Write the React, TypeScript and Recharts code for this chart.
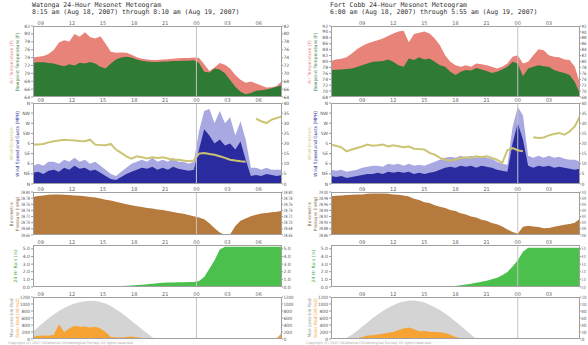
import React from 'react';
import { ComposedChart, Area, Line, XAxis, YAxis, ReferenceLine } from 'recharts';

// half-hour samples, 49 per station
const STEP = 0.5;

// Watonga, 8:15 am Aug 18 -> 8:10 am Aug 19
const WAT_START = 8.25;
const watAir = [74.0, 74.2, 74.4, 74.9, 75.9, 77.8, 78.4, 78.1, 80.0, 79.3, 80.4, 79.2, 78.8, 79.4, 77.5, 75.5, 75.2, 75.3, 75.2, 74.7, 74.1, 73.7, 73.5, 73.4, 73.4, 73.5, 73.6, 73.7, 73.8, 73.9, 73.9, 74.0, 73.9, 72.3, 70.6, 71.5, 72.6, 72.2, 71.2, 69.6, 68.4, 67.6, 67.9, 67.4, 66.9, 66.4, 66.5, 66.8, 68.1];
const watDew = [72.7, 72.8, 72.8, 72.6, 72.5, 72.1, 71.8, 72.3, 72.0, 72.7, 72.5, 72.9, 72.5, 71.7, 71.2, 72.5, 73.5, 74.0, 74.2, 74.0, 73.5, 73.2, 73.0, 72.9, 72.9, 73.0, 73.0, 73.1, 73.1, 73.2, 73.2, 73.3, 72.6, 70.4, 70.2, 71.2, 71.0, 70.0, 68.3, 66.6, 65.3, 64.7, 65.0, 65.6, 65.7, 65.9, 66.2, 66.6, 67.0];
const watDir = [175, 176, 178, 185, 190, 193, 197, 195, 193, 191, 190, 197, 175, 173, 172, 178, 153, 138, 123, 113, 123, 119, 113, 119, 116, 119, 113, 108, 108, 104, 101, 104, 135, 138, 133, 130, 123, 116, 108, 104, 101, 99, null, 290, 279, 271, 286, 293, 301];
const watSpeed = [5.5, 6, 5, 6.5, 7, 6, 8, 7, 9, 7.5, 8, 6.5, 7, 5.5, 4, 2.5, 2, 3.5, 5, 6, 7, 8, 7.5, 8.5, 7, 8, 7, 8.5, 7.5, 7, 6.5, 7, 17, 27, 24, 20, 22, 19, 20, 17, 21, 12, 4, 4.5, 4, 5, 4.5, 4, 4.5];
const watGust = [9, 10, 9, 11, 11, 10, 12, 11, 13, 11, 12, 10, 11, 9, 7, 5, 4, 6, 8, 10, 11, 12, 11, 13, 11, 12, 11, 13, 11, 11, 10, 11, 26, 36, 37, 30, 36, 30, 33, 24, 31, 22, 8, 8, 7, 8, 7, 7, 7];
const watPres = [28.784, 28.787, 28.789, 28.791, 28.792, 28.792, 28.791, 28.790, 28.789, 28.788, 28.786, 28.784, 28.782, 28.779, 28.775, 28.772, 28.768, 28.764, 28.760, 28.757, 28.754, 28.751, 28.748, 28.746, 28.743, 28.741, 28.738, 28.735, 28.732, 28.729, 28.725, 28.721, 28.717, 28.711, 28.698, 28.682, 28.668, 28.660, 28.662, 28.689, 28.706, 28.714, 28.721, 28.726, 28.730, 28.732, 28.734, 28.736, 28.739];
const watRain = [0, 0, 0, 0, 0, 0, 0, 0, 0, 0, 0, 0, 0, 0, 0.02, 0.05, 0.1, 0.13, 0.16, 0.2, 0.25, 0.3, 0.36, 0.43, 0.5, 0.55, 0.58, 0.6, 0.62, 0.63, 0.64, 0.66, 0.8, 1.3, 2.4, 3.5, 4.9, 5.28, 5.28, 5.28, 5.28, 5.28, 5.28, 5.28, 5.28, 5.28, 5.28, 5.28, 5.28];
const watMaxRad = [208, 340, 472, 590, 699, 798, 888, 955, 1011, 1050, 1077, 1092, 1087, 1058, 1011, 940, 850, 748, 633, 515, 397, 278, 161, 40, 0, 0, 0, 0, 0, 0, 0, 0, 0, 0, 0, 0, 0, 0, 0, 0, 0, 0, 0, 0, 0, 0, 0, 30, 200];
const watSolar = [66, 90, 100, 90, 120, 420, 200, 300, 380, 350, 360, 330, 350, 300, 200, 60, 50, 45, 55, 70, 50, 30, 15, 0, 0, 0, 0, 0, 0, 0, 0, 0, 0, 0, 0, 0, 0, 0, 0, 0, 0, 0, 0, 0, 0, 0, 0, 25, 160];

// Fort Cobb, 6:00 am Aug 18 -> 5:55 am Aug 19
const COB_START = 6;
const cobAir = [80.2, 80.7, 80.9, 81.4, 82.7, 84.1, 85.2, 86.1, 86.7, 87.2, 87.8, 88.6, 89.5, 90.1, 90.4, 86.5, 89.3, 89.7, 90.1, 89.5, 87.8, 85.5, 82.1, 79.9, 78.7, 78.2, 78.7, 78.2, 79.3, 79.1, 78.7, 78.2, 77.6, 78.2, 79.3, 81.6, 82.1, 79.3, 79.9, 82.1, 84.1, 83.8, 82.1, 81.6, 81.4, 80.7, 80.5, 78.2, 72.5];
const cobDew = [77.1, 77.2, 77.3, 77.5, 77.6, 78.1, 78.7, 79.3, 79.9, 80.0, 80.2, 80.7, 79.9, 78.7, 78.2, 81.0, 80.5, 81.4, 80.7, 81.0, 79.9, 78.7, 78.2, 76.5, 75.4, 76.5, 77.1, 77.0, 77.8, 77.3, 76.8, 76.1, 76.5, 77.3, 78.2, 79.9, 79.3, 75.0, 77.6, 78.2, 78.7, 78.4, 78.2, 77.1, 76.5, 76.1, 75.4, 73.1, 69.0];
const cobDir = [175, 170, 163, 145, 153, 160, 167, 175, 170, 172, 175, 167, 172, 168, 163, 167, 157, 155, 153, 138, 130, 116, 108, 104, 108, 116, 119, 116, 123, 119, 123, 116, 108, 93, 150, 160, 150, 145, null, 208, 204, 207, 216, 222, 227, 219, 234, 256, 301];
const cobSpeed = [4, 3.5, 4, 3, 3.5, 4, 4.5, 5, 5, 5.5, 5, 6, 5.5, 6, 5.5, 6, 5, 5.5, 5, 5.5, 6, 7, 8, 8.5, 8, 9, 8.5, 9, 8, 9, 8.5, 8, 7, 6.5, 6, 20, 30, 22, 9, 8, 9, 8.5, 9, 8, 8.5, 8, 7.5, 7, 7.5];
const cobGust = [7, 6.5, 7, 6, 6.5, 7, 8, 8.5, 9, 9, 8.5, 10, 9.5, 10, 9, 10, 9, 9.5, 9, 10, 11, 12, 13, 13.5, 13, 14, 13, 14, 13, 14, 13, 12.5, 11, 10, 9.5, 28, 38, 34, 14, 13, 14, 13, 14, 13, 13.5, 12.5, 12, 12, 11];
const cobPres = [28.986, 28.988, 28.989, 28.990, 28.991, 28.992, 28.992, 28.994, 28.995, 28.995, 28.995, 28.994, 28.992, 28.991, 28.989, 28.985, 28.978, 28.974, 28.967, 28.964, 28.957, 28.952, 28.948, 28.941, 28.938, 28.931, 28.927, 28.920, 28.917, 28.910, 28.906, 28.899, 28.895, 28.888, 28.878, 28.870, 28.864, 28.887, 28.890, 28.888, 28.886, 28.882, 28.883, 28.887, 28.890, 28.893, 28.896, 28.900, 28.914];
const cobRain = [0, 0, 0, 0, 0, 0, 0, 0, 0, 0, 0, 0, 0, 0, 0, 0, 0, 0, 0, 0, 0, 0, 0, 0.05, 0.12, 0.22, 0.32, 0.42, 0.55, 0.68, 0.82, 1.0, 1.22, 1.55, 1.98, 2.7, 3.5, 4.6, 5.15, 5.15, 5.15, 5.15, 5.15, 5.15, 5.15, 5.15, 5.15, 5.15, 5.15];
const cobMaxRad = [0, 0, 0, 30, 120, 230, 350, 470, 590, 700, 800, 890, 965, 1030, 1075, 1100, 1100, 1080, 1040, 980, 910, 830, 730, 620, 500, 380, 250, 120, 10, 0, 0, 0, 0, 0, 0, 0, 0, 0, 0, 0, 0, 0, 0, 0, 0, 0, 0, 0, 0];
const cobSolar = [0, 0, 0, 0, 0, 20, 60, 100, 110, 130, 150, 180, 200, 260, 300, 330, 280, 220, 230, 210, 200, 190, 170, 120, 60, 20, 0, 0, 0, 0, 0, 0, 0, 0, 0, 0, 0, 0, 0, 0, 0, 0, 0, 0, 0, 0, 0, 0, 0];

// axis ticks
const watTempTicks = [64, 66, 68, 70, 72, 74, 76, 78, 80, 82];
const cobTempTicks = [68, 70, 72, 74, 76, 78, 80, 82, 84, 86, 88, 90, 92];
const dirTicks = [0, 45, 90, 135, 180, 225, 270, 315, 360];
const dirLabels = ['N', 'NE', 'E', 'SE', 'S', 'SW', 'W', 'NW', 'N'];
const speedTicks = [0, 5, 10, 15, 20, 25, 30, 35, 40];
const watPresTicks = [28.66, 28.68, 28.7, 28.72, 28.74, 28.76, 28.78, 28.8];
const cobPresTicks = [28.86, 28.88, 28.9, 28.92, 28.94, 28.96, 28.98, 29.0];
const rainTicks = [0, 1, 2, 3, 4, 5];
const solarTicks = [0, 200, 400, 600, 800, 1000, 1200];

const RED = '#e8837a';
const DEW = '#2f7a35';
const GUST = '#a8a8e2';
const SPEED = '#2b2ba0';
const DIR = '#cbc473';
const PRES = '#b57a3c';
const RAIN = '#4cc04c';
const MAXRAD = '#d4d4d4';
const SOLAR = '#f7a334';

const FONT = '"DejaVu Sans", sans-serif';
const PW = 249;
const AX_L = 20;
const AX_R = 14;
const AX_T = 8;
const AX_B = 4;
const TICK_FS = 4.5;

const buildRows = (start: number, cols: Record<string, (number | null)[]>) =>
  cols.air.map((_, i) => {
    const row: Record<string, number | null> = { t: start + i * STEP };
    Object.keys(cols).forEach((k) => {
      row[k] = cols[k][i];
    });
    return row;
  });

const watRows = buildRows(WAT_START, {
  air: watAir, dew: watDew, dir: watDir, speed: watSpeed, gust: watGust,
  pres: watPres, rain: watRain, maxrad: watMaxRad, solar: watSolar,
});
const cobRows = buildRows(COB_START, {
  air: cobAir, dew: cobDew, dir: cobDir, speed: cobSpeed, gust: cobGust,
  pres: cobPres, rain: cobRain, maxrad: cobMaxRad, solar: cobSolar,
});

const fmtHour = (v: number) => String(Math.round(v) % 24).padStart(2, '0');

type AxisCfg = { domain: [number, number]; ticks: number[]; fmt?: (v: number) => string };

// y tick text, squeezed sideways when it would not fit the space the reference gives it
const makeTick = (fmt: ((v: number) => string) | undefined, anchor: 'start' | 'end', maxW: number) =>
  (p: any) => {
    const label = fmt ? fmt(p.payload.value) : String(p.payload.value);
    const natural = label.length * TICK_FS * 0.64;
    const sx = natural > maxW ? maxW / natural : 1;
    return (
      <text
        transform={`translate(${p.x},${p.y}) scale(${sx},1)`} x={0} y={0} dy="0.35em"
        textAnchor={anchor} fontSize={TICK_FS} fill="#555" fontFamily={FONT}
      >
        {label}
      </text>
    );
  };

function Panel(props: {
  x: number; y: number; h: number; start: number; data: any[];
  left: AxisCfg; right: AxisCfg; rightMaxW: number; children: React.ReactNode;
}) {
  const { x, y, h, start, data, left, right, rightMaxW, children } = props;
  const hours: number[] = [];
  for (let k = Math.ceil(start / 3) * 3; k < start + 24; k += 3) if (k > start) hours.push(k);
  const w = PW + AX_L + AX_R;
  return (
    <div style={{ position: 'absolute', left: x - AX_L, top: y - AX_T, width: w, height: h + AX_T + AX_B }}>
      <ComposedChart width={w} height={h + AX_T + AX_B} data={data} margin={{ top: 0, right: 0, bottom: AX_B, left: 0 }}>
        <XAxis
          type="number" dataKey="t" domain={[start, start + 24]} ticks={hours} interval={0}
          tickFormatter={fmtHour} orientation="top" height={AX_T} axisLine={false} tickLine={false}
          tickSize={0} tickMargin={1} tick={{ fontSize: 5, fill: '#666', fontFamily: FONT }} allowDataOverflow
        />
        <YAxis
          yAxisId="l" width={AX_L} domain={left.domain} ticks={left.ticks} interval={0}
          tick={makeTick(left.fmt, 'end', 10)} tickSize={2} tickMargin={1}
          axisLine={false} tickLine={{ stroke: '#999' }} allowDataOverflow type="number"
        />
        <YAxis
          yAxisId="r" orientation="right" width={AX_R} domain={right.domain} ticks={right.ticks} interval={0}
          tick={makeTick(right.fmt, 'start', rightMaxW)} tickSize={1} tickMargin={0.5}
          axisLine={false} tickLine={{ stroke: '#999' }} allowDataOverflow type="number"
        />
        {children}
        <ReferenceLine yAxisId="l" x={24} stroke="#c4c4c4" strokeWidth={1} />
      </ComposedChart>
      <div
        style={{
          position: 'absolute', left: AX_L, top: AX_T, width: PW, height: h,
          border: '1px solid #a0a0a0', boxSizing: 'border-box', pointerEvents: 'none',
        }}
      />
    </div>
  );
}

function VTitle({ x, y, h, lines }: { x: number; y: number; h: number; lines: [string, string][] }) {
  return (
    <div
      style={{
        position: 'absolute', left: x, top: y + h / 2,
        transform: 'translate(-50%, -50%) rotate(-90deg)', whiteSpace: 'nowrap',
        textAlign: 'center', fontSize: 4.5, lineHeight: '5.5px', fontFamily: FONT,
      }}
    >
      {lines.map(([t, c]) => (
        <div key={t} style={{ color: c }}>{t}</div>
      ))}
    </div>
  );
}

const P_TEMP = { y: 26, h: 71 };
const P_WIND = { y: 103, h: 81 };
const P_PRES = { y: 192, h: 43 };
const P_RAIN = { y: 245, h: 42 };
const P_SOLAR = { y: 297, h: 42 };

function Meteogram(props: {
  x: number; start: number; rows: any[]; name: string; span: string;
  tempTicks: number[]; presTicks: number[]; rightMaxW: number;
}) {
  const { x, start, rows, name, span, tempTicks, presTicks, rightMaxW } = props;
  const temp: AxisCfg = { domain: [tempTicks[0], tempTicks[tempTicks.length - 1]], ticks: tempTicks };
  const pres: AxisCfg = {
    domain: [presTicks[0], presTicks[presTicks.length - 1]], ticks: presTicks, fmt: (v) => v.toFixed(2),
  };
  const rain: AxisCfg = { domain: [0, 5.5], ticks: rainTicks, fmt: (v) => v.toFixed(1) };
  const solar: AxisCfg = { domain: [0, 1200], ticks: solarTicks };
  const dir: AxisCfg = { domain: [0, 360], ticks: dirTicks, fmt: (v) => dirLabels[dirTicks.indexOf(v)] };
  const spd: AxisCfg = { domain: [0, 40], ticks: speedTicks };
  const tx = x - 19;
  return (
    <>
      <div style={{ position: 'absolute', left: x - 1, top: 2, fontFamily: '"DejaVu Sans Mono", monospace', fontSize: 6.5, lineHeight: '7px', color: '#333', whiteSpace: 'pre' }}>
        <div>{name}</div>
        <div>{span}</div>
      </div>

      <Panel x={x} {...P_TEMP} start={start} data={rows} left={temp} right={temp} rightMaxW={rightMaxW}>
        <Area yAxisId="l" dataKey="air" type="linear" stroke="none" fill={RED} fillOpacity={1} baseValue="dataMin" isAnimationActive={false} />
        <Area yAxisId="l" dataKey="dew" type="linear" stroke="none" fill={DEW} fillOpacity={1} baseValue="dataMin" isAnimationActive={false} />
      </Panel>
      <VTitle x={tx} {...P_TEMP} lines={[['Air Temperature (F)', RED], ['Dewpoint Temperature (F)', DEW]]} />

      <Panel x={x} {...P_WIND} start={start} data={rows} left={dir} right={spd} rightMaxW={rightMaxW}>
        <Area yAxisId="r" dataKey="gust" type="linear" stroke="none" fill={GUST} fillOpacity={1} isAnimationActive={false} />
        <Area yAxisId="r" dataKey="speed" type="linear" stroke="none" fill={SPEED} fillOpacity={1} isAnimationActive={false} />
        <Line yAxisId="l" dataKey="dir" type="linear" stroke={DIR} strokeWidth={2} dot={false} connectNulls={false} isAnimationActive={false} />
      </Panel>
      <VTitle x={tx} {...P_WIND} lines={[['Wind Direction', DIR], ['Wind Speed and Gusts (MPH)', SPEED]]} />

      <Panel x={x} {...P_PRES} start={start} data={rows} left={pres} right={pres} rightMaxW={rightMaxW}>
        <Area yAxisId="l" dataKey="pres" type="linear" stroke="none" fill={PRES} fillOpacity={1} baseValue="dataMin" isAnimationActive={false} />
      </Panel>
      <VTitle x={tx} {...P_PRES} lines={[['Barometric', '#8a6a4a'], ['Pressure (inHg)', '#8a6a4a']]} />

      <Panel x={x} {...P_RAIN} start={start} data={rows} left={rain} right={rain} rightMaxW={rightMaxW}>
        <Area yAxisId="l" dataKey="rain" type="linear" stroke="none" fill={RAIN} fillOpacity={1} isAnimationActive={false} />
      </Panel>
      <VTitle x={tx + 2} {...P_RAIN} lines={[['24 Hr Rain (in)', '#3aa83a']]} />

      <Panel x={x} {...P_SOLAR} start={start} data={rows} left={solar} right={solar} rightMaxW={rightMaxW}>
        <Area yAxisId="l" dataKey="maxrad" type="linear" stroke="none" fill={MAXRAD} fillOpacity={1} isAnimationActive={false} />
        <Area yAxisId="l" dataKey="solar" type="linear" stroke="none" fill={SOLAR} fillOpacity={1} isAnimationActive={false} />
      </Panel>
      <VTitle x={tx} {...P_SOLAR} lines={[['Max possible Rad', '#999'], ['Solar Rad (W/m2)', SOLAR]]} />

      <div style={{ position: 'absolute', left: x - 25, top: 341.5, fontFamily: FONT, fontSize: 3.5, lineHeight: '3.5px', color: '#aaa', whiteSpace: 'nowrap' }}>
        Copyright (c) 2007 Oklahoma Climatological Survey. All rights reserved.
      </div>
    </>
  );
}

export default function App() {
  return (
    <div style={{ position: 'absolute', left: 0, top: 0, width: 588, height: 345, background: '#fff', overflow: 'hidden' }}>
      <Meteogram
        x={33} start={WAT_START} rows={watRows}
        name="Watonga 24-Hour Mesonet Meteogram"
        span="8:15 am (Aug 18, 2007) through 8:10 am (Aug 19, 2007)"
        tempTicks={watTempTicks} presTicks={watPresTicks} rightMaxW={10}
      />
      <Meteogram
        x={331} start={COB_START} rows={cobRows}
        name="Fort Cobb 24-Hour Mesonet Meteogram"
        span="6:00 am (Aug 18, 2007) through 5:55 am (Aug 19, 2007)"
        tempTicks={cobTempTicks} presTicks={cobPresTicks} rightMaxW={5}
      />
    </div>
  );
}
